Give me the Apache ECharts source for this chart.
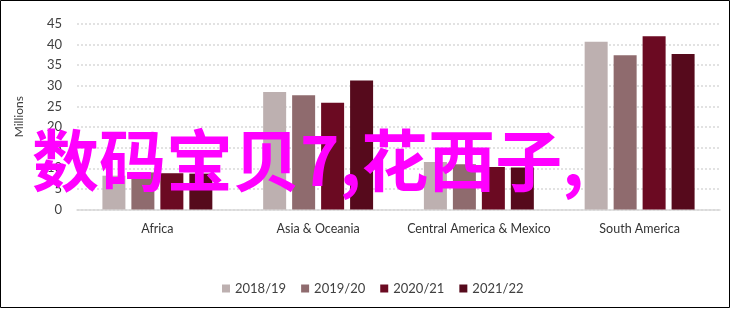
<!DOCTYPE html>
<html><head><meta charset="utf-8">
<script src="https://cdn.jsdelivr.net/npm/echarts@6/dist/echarts.min.js"></script>
<style>html,body{margin:0;padding:0;background:#fff}#c{width:732px;height:309px}</style>
</head><body><div id="c"></div>
<script>
const categories = ['Africa', 'Asia & Oceania', 'Central America & Mexico', 'South America'];
const seriesNames = ['2018/19', '2019/20', '2020/21', '2021/22'];
const s2018 = [8.2, 28.5, 11.5, 40.7];
const s2019 = [9.0, 27.7, 11.0, 37.4];
const s2020 = [8.8, 25.9, 10.3, 42.0];
const s2021 = [8.7, 31.3, 10.2, 37.7];
const colors = ['#BDB0B0', '#8F6B6E', '#6B0A22', '#560A1C'];
const overlayText = '数码宝贝7,花西子,';

const chart = echarts.init(document.getElementById('c'));
const vals = [s2018, s2019, s2020, s2021];
chart.setOption({
  animation: false,
  textStyle: {fontFamily: 'Lato'},
  grid: {left: 77, right: 12, top: 24, bottom: 99.5, containLabel: false},
  legend: {
    bottom: 9, left: 217, itemWidth: 8, itemHeight: 8, itemGap: 15, icon: 'rect',
    textStyle: {fontSize: 13, color: '#404040', fontFamily: 'Lato'},
    data: seriesNames
  },
  xAxis: {
    type: 'category', data: categories,
    axisLine: {lineStyle: {color: '#d9d9d9', width: 1.5}},
    axisTick: {show: false},
    axisLabel: {fontSize: 12.5, color: '#333', margin: 13, interval: 0}
  },
  yAxis: {
    type: 'value', min: 0, max: 45, interval: 5,
    name: 'Millions', nameLocation: 'middle', nameGap: 52, nameRotate: 90,
    nameTextStyle: {fontSize: 12, color: '#404040'},
    axisLine: {show: false}, axisTick: {show: false},
    axisLabel: {fontSize: 13, color: '#404040', margin: 15},
    splitLine: {lineStyle: {color: '#d9d9d9', type: [2, 2], width: 1.5}}
  },
  series: seriesNames.map((n, i) => ({
    name: n, type: 'bar', data: vals[i], barWidth: 23, barGap: '26%', barCategoryGap: '32%',
    itemStyle: {color: colors[i]}
  })),
  graphic: [
    {type: 'text', left: 32, top: 127, z: 100,
     style: {text: overlayText, fill: '#ff00ff', font: 'bold 67px "Noto Sans CJK SC"'}},
    {type: 'rect', shape: {x: 0.5, y: 0.5, width: 729, height: 307}, z: 100,
     style: {fill: 'none', stroke: '#000', lineWidth: 1}}
  ]
});
</script></body></html>
